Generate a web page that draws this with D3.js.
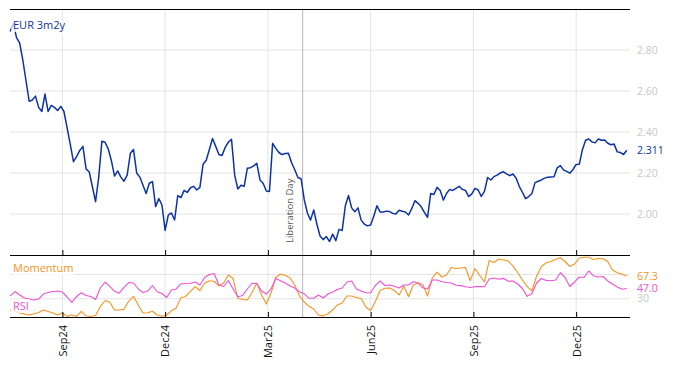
<!DOCTYPE html>
<html><head><meta charset="utf-8">
<script src="https://cdn.jsdelivr.net/npm/d3@7"></script>
<style>
body{margin:0;background:#fff}
svg{display:block}
text{font-family:"Open Sans",sans-serif}
</style>
</head><body>
<svg id="chart" width="674" height="366"></svg>
<script>
// ---------- data ----------
const seriesName = "EUR 3m2y";
const startDate = "2024-07-17";   // first observation
const rateStep = 2;               // business days between rate observations
const oscStep = 3;                // business days between oscillator observations
const rateValues = [
2.89,2.93,2.86,2.833,2.75,2.65,2.55,2.556,2.575,2.52,
2.50,2.585,2.50,2.53,2.52,2.505,2.525,2.50,2.42,2.34,
2.255,2.28,2.31,2.33,2.22,2.205,2.133,2.06,2.18,2.355,
2.35,2.318,2.26,2.185,2.21,2.18,2.16,2.19,2.296,2.315,
2.20,2.18,2.14,2.10,2.15,2.158,2.036,2.075,2.044,1.92,
1.995,2.005,1.971,2.09,2.08,2.115,2.105,2.128,2.135,2.117,
2.13,2.243,2.262,2.315,2.368,2.33,2.29,2.285,2.325,2.35,
2.364,2.19,2.122,2.14,2.135,2.223,2.226,2.235,2.247,2.166,
2.15,2.112,2.11,2.345,2.32,2.30,2.29,2.295,2.296,2.25,
2.216,2.178,2.172,2.07,2.005,1.97,2.02,1.95,1.893,1.875,
1.89,1.866,1.902,1.87,1.925,1.92,2.04,2.09,2.03,2.011,
2.03,1.97,1.951,1.942,1.946,1.99,2.04,2.01,2.01,2.014,
2.012,2.003,2.0,2.018,2.013,2.01,1.995,2.026,2.065,2.052,
2.035,2.008,1.984,2.10,2.095,2.13,2.115,2.068,2.10,2.12,
2.115,2.125,2.135,2.12,2.115,2.085,2.098,2.125,2.117,2.086,
2.11,2.178,2.166,2.182,2.19,2.20,2.206,2.196,2.187,2.195,
2.176,2.135,2.106,2.075,2.085,2.10,2.153,2.16,2.166,2.175,
2.179,2.181,2.182,2.225,2.236,2.215,2.208,2.199,2.217,2.242,
2.243,2.315,2.36,2.366,2.352,2.347,2.366,2.36,2.361,2.345,
2.338,2.341,2.303,2.30,2.29,2.311];
const momentumValues = [
11.5,9.9,6.6,4.9,3.3,5.3,7.4,11.5,9.1,6.6,
3.3,6.6,1.1,3.3,1.1,9.4,1.6,0.8,2.4,17.2,
27.1,24.4,11.5,11.5,12.6,26.3,34.1,19.8,6.6,6.9,
9.4,3.3,1.3,3.3,10.2,14.8,31.6,33.8,42.3,49.9,
43.6,55.5,59.7,58.4,51.3,55.9,69.1,63.3,30.4,29.1,
27.9,40.3,55.9,36.2,21.4,39.5,65,70.8,68.2,64.5,
52.6,34.6,24.7,17.6,13.2,3.3,1.9,5.3,11.5,19.8,
23.1,34.6,34.6,32.1,30.4,16.4,10.7,25.5,43.6,47.2,
47.7,43.6,36.2,50.5,33.4,52.6,55.9,53.4,34.6,64.2,
73.7,65.8,69.1,81.4,79.8,80.6,81.4,59.7,79.8,68.2,
57.6,92.9,89.7,95.4,93.7,92.1,84,73.2,60.9,49.9,
43.2,67.4,83.1,89.1,91.3,95,97.4,91.3,83.1,87.2,
97.1,98.2,98.2,94.6,96.3,95.9,91.3,77.3,72.9,70.3,
67.3];
const rsiValues = [
34.6,41.9,36.2,31.2,29.6,27.9,29.6,37.8,40.3,41.9,
42.7,41.1,32.9,23.9,33.8,39.8,35.4,33.8,28.8,47.7,
57.6,50.5,42.3,39.2,48.6,56.7,55.9,46.1,40.2,42.7,
51.8,41.6,38.7,32.1,44.4,46.1,54.6,55.1,55.5,57.6,
52.6,65,69.9,71.6,52.6,50.2,60.1,46.1,33.4,35.4,
46.1,55.5,55.1,42.7,37.8,46.1,63.3,59.6,55.9,51,
47.7,41.1,38.1,30.8,30.9,36.2,31.2,37.8,41.1,45.3,
47.7,57.6,59.3,46.1,42.7,40,40,51.8,59.3,51.8,
52.6,50.5,47.7,52.6,52.6,58,55.9,48,46.1,60.9,
60.9,58,56.7,55.9,52.3,51.6,49.9,48.6,49.9,50.2,
49.7,62.5,64.2,62,63.6,58.8,59.3,54.3,46.9,33.9,
38.7,55.9,63.3,60.2,59.6,60.9,72.9,65,50.2,57.6,
65.8,65,75.7,67.8,65.8,66.6,59.3,54.3,49.4,45.6,
47.0];
const rateTicks = [2.0, 2.2, 2.4, 2.6, 2.8];
const oscGridTicks = [30, 70];
const oscLabelTicks = [30];
const eventDate = "2025-04-02";
const eventLabel = "Liberation Day";
const momentumName = "Momentum";
const rsiName = "RSI";
const lastLabels = {rate: "2.311", mom: "67.3", rsi: "47.0"};

// ---------- setup ----------
const C = {blue:"#0c33a6", orange:"#f7931e", pink:"#f24fd5", grid:"#e4e4e4", tick:"#c8c8c8"};
const svg = d3.select("#chart");
const parse = d3.timeParse("%Y-%m-%d");

// business-day calendar
const bdays = [];
for (let d = parse(startDate); d <= parse("2026-03-31"); d = d3.timeDay.offset(d, 1)) {
  const wd = d.getDay();
  if (wd !== 0 && wd !== 6) bdays.push(d);
}
const bIndex = date => bdays.findIndex(b => +b >= +date);

const L = 10, R = 630;
const x = d3.scaleLinear().domain([0, 392]).range([10.2, 629.9]);
const yTop = d3.scaleLinear().domain([1.8, 3.0]).range([255, 9]);
const yBot = d3.scaleLinear().domain([0, 102]).range([317, 255]);

// month ticks (first business day of Mar/Jun/Sep/Dec)
const tickIdx = [];
bdays.forEach((d, i) => {
  if (i > 0 && d.getMonth() !== bdays[i-1].getMonth() && d.getMonth() % 3 === 2 && i <= 392) tickIdx.push(i);
});
const fmt = d3.timeFormat("%b%y");

// ---------- grid ----------
const g = svg.append("g");
g.selectAll(".hg").data(rateTicks).join("line")
  .attr("x1", L).attr("x2", R).attr("y1", d => yTop(d)).attr("y2", d => yTop(d))
  .attr("stroke", C.grid).attr("stroke-width", 1);
g.selectAll(".hg2").data(oscGridTicks).join("line")
  .attr("x1", L).attr("x2", R).attr("y1", d => yBot(d)).attr("y2", d => yBot(d))
  .attr("stroke", C.grid).attr("stroke-width", 1);
g.selectAll(".vg").data(tickIdx).join("line")
  .attr("x1", d => x(d)).attr("x2", d => x(d)).attr("y1", 9).attr("y2", 317)
  .attr("stroke", C.grid).attr("stroke-width", 1);

// event line
const ev = bIndex(parse(eventDate));
g.append("line").attr("x1", x(ev)).attr("x2", x(ev)).attr("y1", 9).attr("y2", 317)
  .attr("stroke", "#b8b8b8").attr("stroke-width", 1);
g.append("text").attr("transform", `translate(${x(ev) - 10},243) rotate(-90)`)
  .attr("font-size", 9.5).attr("fill", "#5a5a5a").text(eventLabel);

// ---------- lines ----------
const lineTop = d3.line().x((v, i) => x(i * rateStep)).y(v => yTop(v));
const lineBot = d3.line().x((v, i) => x(i * oscStep)).y(v => yBot(v));
svg.append("path").attr("d", lineBot(momentumValues)).attr("fill", "none")
  .attr("stroke", C.orange).attr("stroke-width", 1.1).attr("stroke-linejoin", "round");
svg.append("path").attr("d", lineBot(rsiValues)).attr("fill", "none")
  .attr("stroke", C.pink).attr("stroke-width", 1.1).attr("stroke-linejoin", "round");
svg.append("path").attr("d", lineTop(rateValues)).attr("fill", "none")
  .attr("stroke", C.blue).attr("stroke-width", 1.5).attr("stroke-linejoin", "round");

// ---------- axes / borders ----------
svg.append("line").attr("x1", L).attr("x2", R).attr("y1", 9.5).attr("y2", 9.5).attr("stroke", "#000");
const axTop = svg.append("g").attr("transform", "translate(0,255)")
  .call(d3.axisBottom(x).tickValues(tickIdx).tickSize(-5).tickSizeOuter(0).tickFormat(""));
const axBot = svg.append("g").attr("transform", "translate(0,317)")
  .call(d3.axisBottom(x).tickValues(tickIdx).tickSize(-5).tickSizeOuter(0).tickFormat(i => fmt(bdays[i])));
[axTop, axBot].forEach(a => {
  a.select(".domain").attr("d", `M${L},0.5H${R}`).attr("stroke", "#000");
  a.selectAll(".tick line").attr("stroke", "#000");
});
axBot.selectAll(".tick text")
  .attr("transform", "rotate(-90)").attr("text-anchor", "end")
  .attr("x", -8).attr("y", 0).attr("dy", "0.35em")
  .attr("font-size", 11).attr("font-family", "Open Sans").attr("fill", "#111");

// right tick labels
svg.selectAll(".rl").data(rateTicks).join("text")
  .attr("x", 637).attr("y", d => yTop(d)).attr("dy", "0.35em")
  .attr("font-size", 10.5).attr("fill", C.tick).text(d => d.toFixed(2));
svg.selectAll(".ol").data(oscLabelTicks).join("text")
  .attr("x", 637).attr("y", d => yBot(d)).attr("dy", "0.35em")
  .attr("font-size", 10.5).attr("fill", C.tick).text(d => d);

// last-value labels
svg.append("text").attr("x", 637).attr("y", yTop(rateValues[rateValues.length-1])).attr("dy", "0.35em")
  .attr("font-size", 10.5).attr("fill", C.blue).text(lastLabels.rate);
svg.append("text").attr("x", 637).attr("y", yBot(momentumValues[momentumValues.length-1])).attr("dy", "0.35em")
  .attr("font-size", 10.5).attr("fill", C.orange).text(lastLabels.mom);
svg.append("text").attr("x", 637).attr("y", yBot(rsiValues[rsiValues.length-1])).attr("dy", "0.35em")
  .attr("font-size", 10.5).attr("fill", C.pink).text(lastLabels.rsi);

// series name labels with soft white halo
function halo(sel) {
  return sel.attr("stroke", "#fff").attr("stroke-opacity", 0.8).attr("stroke-width", 6)
    .attr("stroke-linejoin", "round").attr("paint-order", "stroke");
}
halo(svg.append("text").attr("x", 13).attr("y", 29).attr("font-size", 11)
  .attr("fill", C.blue).text(seriesName));
halo(svg.append("text").attr("x", 13).attr("y", 272).attr("font-size", 11)
  .attr("fill", C.orange).text(momentumName));
halo(svg.append("text").attr("x", 13).attr("y", 310).attr("font-size", 11)
  .attr("fill", C.pink).text(rsiName));
</script>
</body></html>
